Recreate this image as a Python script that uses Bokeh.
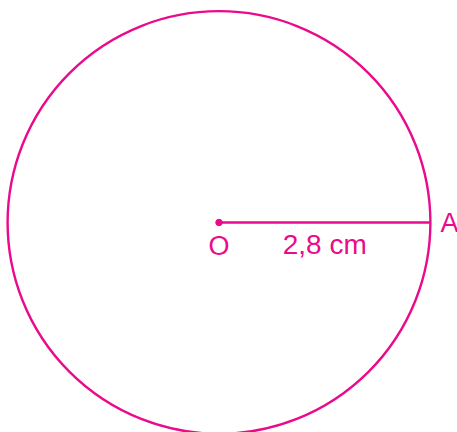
from bokeh.plotting import figure
from bokeh.models import Range1d
from bokeh.core.properties import value
from bokeh.embed import file_html
from bokeh.resources import INLINE

# Data (cm)
center_x = [0.0]
center_y = [0.0]
radius_cm = 2.8
point_labels = ["O", "A"]
length_label = "2,8 cm"

COLOR = "#EA0A8C"
FONT = "Liberation Sans"

W, H = 457, 432
scale = 75.5  # px per cm
cx_px, cy_px = 218.5, 222  # center position in figure px
x0 = -cx_px / scale
x1 = (W - cx_px) / scale
y1 = cy_px / scale
y0 = -(H - cy_px) / scale

p = figure(width=W, height=H, output_backend="svg", toolbar_location=None,
           x_range=Range1d(x0, x1), y_range=Range1d(y0, y1),
           min_border=0, outline_line_color=None)
p.axis.visible = False
p.grid.visible = False
p.background_fill_color = "white"
p.border_fill_color = "white"

# circle
p.circle(x=center_x, y=center_y, radius=radius_cm, fill_color=None,
         line_color=COLOR, line_width=2.4)

# radius segment O-A
ax = [center_x[0] + radius_cm]
ay = [center_y[0]]
p.segment(x0=center_x, y0=center_y, x1=ax, y1=ay, line_color=COLOR, line_width=2.4)

# center dot
p.scatter(x=center_x, y=center_y, size=6.5, color=COLOR)

# labels
p.text(x=center_x, y=center_y, text=[point_labels[0]], text_align="center",
       text_baseline="alphabetic", y_offset=23, text_color=COLOR,
       text_font=value(FONT), text_font_size="27px")
p.text(x=[(center_x[0] + ax[0]) / 2], y=center_y, text=[length_label],
       text_align="center", text_baseline="alphabetic", y_offset=22,
       text_color=COLOR, text_font=value(FONT), text_font_size="28px")
p.text(x=ax, y=ay, text=[point_labels[1]], text_align="left",
       text_baseline="alphabetic", x_offset=10, y_offset=0, text_color=COLOR,
       text_font=value(FONT), text_font_size="27px")

open("out.html", "w").write(file_html(p, INLINE))
